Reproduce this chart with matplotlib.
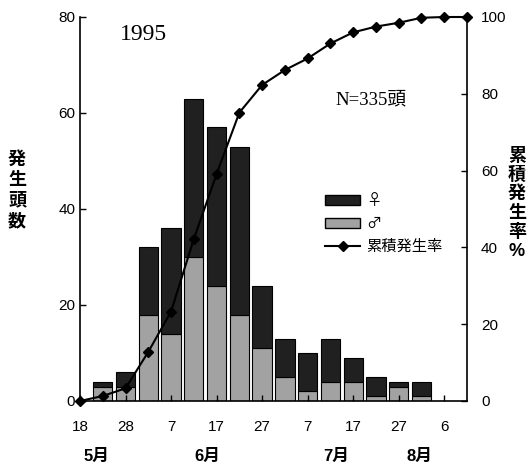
import matplotlib
matplotlib.use('Agg')
import matplotlib.pyplot as plt
from matplotlib.lines import Line2D
from matplotlib.patches import Patch

plt.rcParams['font.family'] = ['Liberation Sans', 'Noto Sans CJK JP', 'DejaVu Sans']

# 5日ごとの羽化数 (5月18日起点)
days = [5, 10, 15, 20, 25, 30, 35, 40, 45, 50, 55, 60, 65, 70, 75]
male = [3, 3, 18, 14, 30, 24, 18, 11, 5, 2, 4, 4, 1, 3, 1]
female = [1, 3, 14, 22, 33, 33, 35, 13, 8, 8, 9, 5, 4, 1, 3]

# 累積発生率 (%)
cum_days = [0, 5, 10, 15, 20, 25, 30, 35, 40, 45, 50, 55, 60, 65, 70, 75, 80, 85]
cum_rate = [0, 1.3, 3.3, 12.8, 23.3, 42.2, 59.1, 75.1, 82.3, 86.2, 89.2, 93.1,
            96.0, 97.5, 98.5, 99.8, 100, 100]

tick_days = [0, 10, 20, 30, 40, 50, 60, 70, 80]
tick_labels = ['18', '28', '7', '17', '27', '7', '17', '27', '6']
months = ['5月', '6月', '7月', '8月']
month_pos = [3.7, 28, 56.2, 74.6]

fig = plt.figure(figsize=(5.3, 4.68), dpi=100)
ax = fig.add_axes([80 / 530, 1 - 401 / 468, 387 / 530, 384 / 468])

ax.bar(days, male, width=4.25, color='#a2a2a2', edgecolor='black', linewidth=0.8)
ax.bar(days, female, bottom=male, width=4.25, color='#202020', edgecolor='black', linewidth=0.8)
ax.set_xlim(0, 85)
ax.set_ylim(0, 80)
ax.set_yticks([0, 20, 40, 60, 80])
ax.set_xticks(tick_days)
ax.set_xticklabels(tick_labels)
ax.tick_params(direction='in', length=4, labelsize=11, width=1)
ax.tick_params(axis='x', pad=14)
ax.spines['top'].set_visible(False)
ax.spines['right'].set_visible(False)
for s in ['left', 'bottom']:
    ax.spines[s].set_linewidth(1.2)

ax2 = ax.twinx()
ax2.plot(cum_days, cum_rate, color='black', lw=1.5, marker='D', ms=5.5, clip_on=False)
ax2.set_ylim(0, 100)
ax2.set_yticks([0, 20, 40, 60, 80, 100])
ax2.tick_params(direction='in', length=4, labelsize=11, width=1, pad=10)
ax2.spines['top'].set_visible(False)
ax2.spines['left'].set_visible(False)
ax2.spines['bottom'].set_visible(False)
ax2.spines['right'].set_linewidth(1.2)

for m, p in zip(months, month_pos):
    ax.text(p, -0.145, m, transform=ax.get_xaxis_transform(), ha='center', va='center',
            fontsize=12, fontweight='bold')

ax.text(0.163, 0.955, '1995', transform=ax.transAxes, ha='center', va='center',
        fontsize=17, family=['Liberation Serif', 'Noto Sans CJK JP'])
ax.text(0.752, 0.784, 'N=335頭', transform=ax.transAxes, ha='center', va='center',
        fontsize=13.5, family=['Liberation Serif', 'Noto Sans CJK JP'])

fig.text(17 / 530, 1 - 191 / 468, '発\n生\n頭\n数', ha='center', va='center',
         fontsize=13, fontweight='bold', linespacing=1.25)
fig.text(517 / 530, 1 - 204 / 468, '累\n積\n発\n生\n率\n%', ha='center', va='center',
         fontsize=13, fontweight='bold', linespacing=1.15)

handles = [Patch(facecolor='#202020', edgecolor='black'),
           Patch(facecolor='#a2a2a2', edgecolor='black'),
           Line2D([], [], color='black', lw=1.5, marker='D', ms=5.5)]
ax2.legend(handles, ['♀', '♂', '累積発生率'], loc='upper left', bbox_to_anchor=(0.618, 0.56),
           frameon=False, handlelength=2.3, handleheight=0.6,
           handletextpad=0.4, labelspacing=0.4, borderaxespad=0,
           prop={'family': ['Noto Sans CJK JP', 'DejaVu Sans'], 'size': 11})

fig.savefig('out.png', dpi=100)
